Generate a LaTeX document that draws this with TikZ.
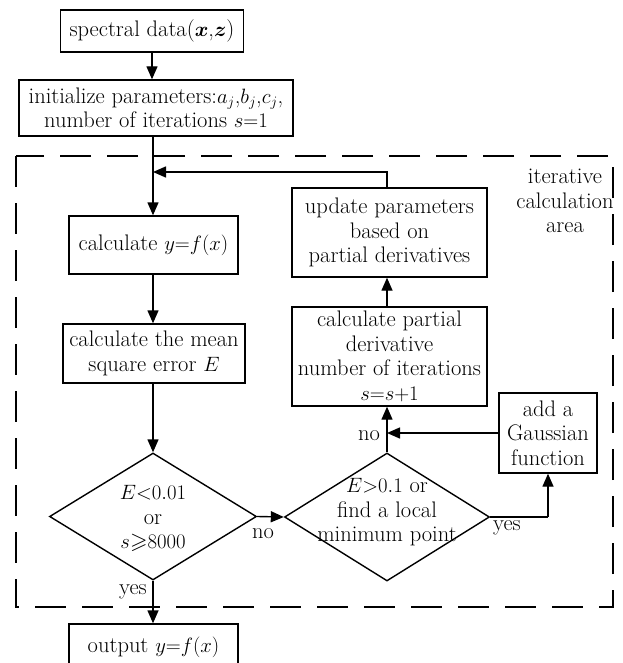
\documentclass[tikz,border=0pt]{standalone}
\usepackage{amsmath,amssymb,bm}
\usetikzlibrary{shapes.geometric,arrows.meta}
\begin{document}
\begin{tikzpicture}[x=1pt,y=-1pt,
  every node/.style={font=\fontsize{22.5}{24.5}\selectfont},
  box/.style={draw,line width=1.4pt,rectangle,align=center,inner sep=1pt},
  dia/.style={draw,line width=1.4pt,diamond,inner sep=0pt},
  arr/.style={line width=1.4pt,-{Triangle[length=13pt,width=11pt]}},
  ln/.style={line width=1.4pt},
  lab/.style={inner sep=0pt}]
\useasboundingbox (0,0) rectangle (622,663);
\draw[line width=1.6pt,dash pattern=on 31pt off 16pt] (16,156) rectangle (613,607);
\node[box,minimum width=183,minimum height=42] (spec) at (152,31) {spectral data($\bm{x}$,$\bm{z}$)};
\node[box,minimum width=274,minimum height=56] (init) at (156,108) {initialize parameters:$a_j$,$b_j$,$c_j$,\\number of iterations $s{=}1$};
\node[box,minimum width=169,minimum height=58] (calc) at (153.5,245) {calculate $y{=}f(x)$};
\node[box,minimum width=182,minimum height=59] (mse) at (154,353.5) {calculate the mean\\square error $E$};
\node[dia,minimum width=207,minimum height=127] (d1) at (153,516.5) {};
\node[align=center,inner sep=0pt] (d1t) at (153,518.5) {$E{<}0.01$\\or\\$s{\geqslant}8000$};
\node[dia,minimum width=205,minimum height=128] (d2) at (387,517) {};
\node[align=center,inner sep=0pt] (d2t) at (387,512.5) {$E{>}0.1$ or\\find a local\\minimum point};
\node[box,minimum width=195,minimum height=99] (part) at (389.5,356.5) {calculate partial\\derivative\\number of iterations\\$s{=}s{+}1$};
\node[box,minimum width=195,minimum height=89] (upd) at (389.5,232.5) {update parameters\\based on\\partial derivatives};
\node[box,minimum width=98,minimum height=80] (gau) at (548,433) {add a\\Gaussian\\function};
\node[box,minimum width=169,minimum height=46] (out) at (153.5,647) {output $y{=}f(x)$};
\node[align=center,inner sep=0pt] (area) at (565,201) {iterative\\calculation\\area};
\node[lab] (no1) at (263,534) {no};
\node[lab] (yes1) at (133,592) {yes};
\node[lab] (no2) at (369,436) {no};
\node[lab] (yes2) at (507,528) {yes};
\coordinate (fb) at (153,172);
\coordinate (gy) at (548,517);
\coordinate (nj) at (387,433);
\draw[arr] (spec.south) -- (spec.south |- init.north);
\draw[arr] (init.south -| fb) -- (fb |- calc.north);
\draw[arr] (upd.north -| nj) |- (fb);
\draw[arr] (calc.south -| fb) -- (fb |- mse.north);
\draw[arr] (mse.south -| fb) -- (d1.north);
\draw[arr] (d1.east) -- (d2.west);
\draw[arr] (d1.south) -- (d1.south |- out.north);
\draw[arr] (d2.north) -- (d2.north |- part.south);
\draw[arr] (part.north -| nj) -- (nj |- upd.south);
\draw[ln] (d2.east) -- (gy);
\draw[arr] (gy) -- (gau.south);
\draw[arr] (gau.west) -- (nj);
\end{tikzpicture}
\end{document}
